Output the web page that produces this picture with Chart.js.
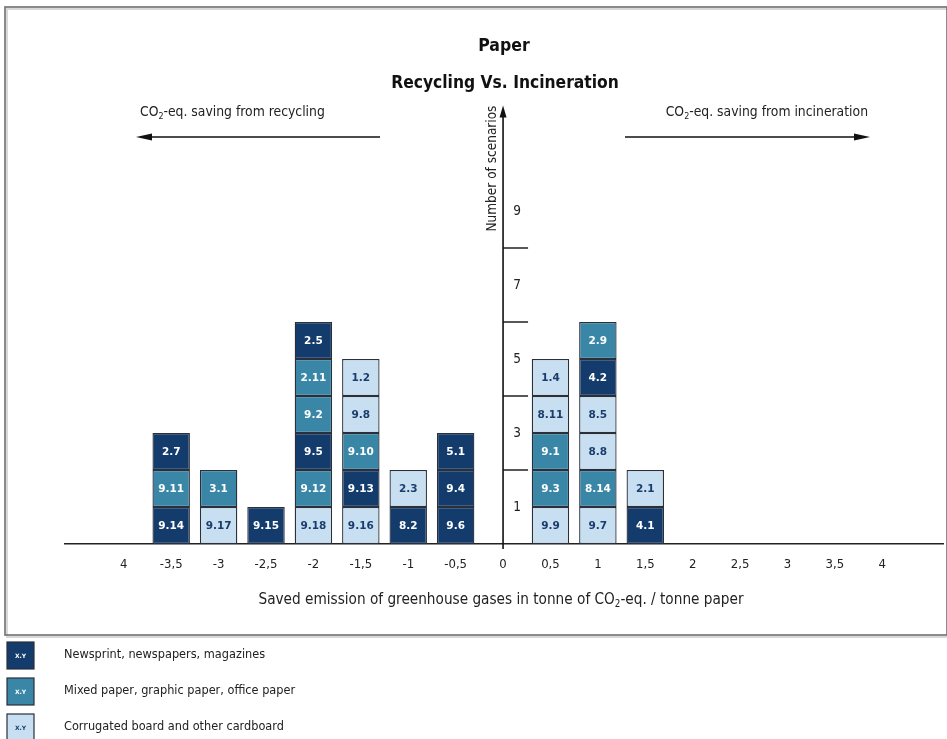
<!DOCTYPE html>
<html><head><meta charset="utf-8">
<script src="https://cdn.jsdelivr.net/npm/chart.js@4.4.1/dist/chart.umd.min.js"></script>
<style>html,body{margin:0;padding:0;background:#fff;overflow:hidden}#wrap{width:947px;height:739px;position:relative}</style>
</head><body><div id="wrap"><canvas id="c" width="947" height="739"></canvas></div>
<script>
// ---- data ----
const bins = [-3.5, -3, -2.5, -2, -1.5, -1, -0.5, 0.5, 1, 1.5];
const scenarioLabels = [
  ["9.14", "9.11", "2.7"],
  ["9.17", "3.1"],
  ["9.15"],
  ["9.18", "9.12", "9.5", "9.2", "2.11", "2.5"],
  ["9.16", "9.13", "9.10", "9.8", "1.2"],
  ["8.2", "2.3"],
  ["9.6", "9.4", "5.1"],
  ["9.9", "9.3", "9.1", "8.11", "1.4"],
  ["9.7", "8.14", "8.8", "8.5", "4.2", "2.9"],
  ["4.1", "2.1"]
];
// 0 = newsprint, 1 = mixed paper, 2 = corrugated board
const scenarioTypes = [
  [0, 1, 0],
  [2, 1],
  [0],
  [2, 1, 0, 1, 1, 0],
  [2, 0, 1, 2, 2],
  [0, 2],
  [0, 0, 0],
  [2, 1, 1, 2, 2],
  [2, 1, 2, 2, 0, 1],
  [0, 2]
];
const paperTypes = ["Newsprint, newspapers, magazines", "Mixed paper, graphic paper, office paper", "Corrugated board and other cardboard"];
const xTickValues = [-4, -3.5, -3, -2.5, -2, -1.5, -1, -0.5, 0, 0.5, 1, 1.5, 2, 2.5, 3, 3.5, 4];
const xTickLabels = ["4", "-3,5", "-3", "-2,5", "-2", "-1,5", "-1", "-0,5", "0", "0,5", "1", "1,5", "2", "2,5", "3", "3,5", "4"];
const yLabelValues = [1, 3, 5, 7, 9];
const yTickLineValues = [2, 4, 6, 8];

// ---- styles ----
const fillColors = ["#133b6c", "#3a86a7", "#c7dff0"];
const textColors = ["#ffffff", "#ffffff", "#1a3d6d"];
const FONT = '"DejaVu Sans Condensed", "Liberation Sans Narrow", "DejaVu Sans", sans-serif';
const BFONT = 'Verdana, "DejaVu Sans", sans-serif';

const maxLevel = Math.max(...scenarioLabels.map(s => s.length));
const datasets = [];
for (let L = 0; L < maxLevel; L++) {
  const pts = [];
  bins.forEach((b, i) => {
    if (scenarioLabels[i].length > L) pts.push({x: b, y: 1, lbl: scenarioLabels[i][L], t: scenarioTypes[i][L]});
  });
  datasets.push({
    label: 'level ' + (L + 1),
    data: pts,
    backgroundColor: ctx => fillColors[ctx.raw ? ctx.raw.t : 0],
    borderColor: '#2b2f3a',
    borderWidth: 1.3,
    borderSkipped: false,
    barPercentage: 0.79,
    categoryPercentage: 1
  });
}

// text with a subscript "2" after "CO"
function drawCO2(c, pre, post, x, y, size, align) {
  const subSize = size * 0.64;
  c.font = size + 'px ' + FONT; const w1 = c.measureText(pre).width, w3 = c.measureText(post).width;
  c.font = subSize + 'px ' + FONT; const w2 = c.measureText('2').width;
  const total = w1 + w2 + w3;
  const sx = align === 'center' ? x - total / 2 : (align === 'right' ? x - total : x);
  c.textAlign = 'left'; c.textBaseline = 'middle';
  c.font = size + 'px ' + FONT; c.fillText(pre, sx, y);
  c.font = subSize + 'px ' + FONT; c.fillText('2', sx + w1, y + size * 0.32);
  c.font = size + 'px ' + FONT; c.fillText(post, sx + w1 + w2, y);
}

const deco = {
  id: 'deco',
  beforeDraw(chart) {
    const c = chart.ctx;
    c.save();
    c.strokeStyle = '#d8d8d8'; c.lineWidth = 2;
    c.strokeRect(7, 9, 942, 628);
    c.strokeStyle = '#6e6e6e'; c.lineWidth = 1.6;
    c.strokeRect(5, 7, 942, 628);
    c.restore();
  },
  afterDatasetsDraw(chart) {
    const c = chart.ctx;
    const xs = chart.scales.x, ys = chart.scales.y;
    c.save();
    // block labels
    c.font = 'bold 10.5px ' + BFONT;
    c.textAlign = 'center'; c.textBaseline = 'middle';
    chart.data.datasets.forEach((ds, di) => {
      const meta = chart.getDatasetMeta(di);
      meta.data.forEach((el, j) => {
        const r = ds.data[j];
        c.fillStyle = textColors[r.t];
        c.fillText(r.lbl, el.x, (el.y + el.base) / 2 + 0.5);
      });
    });
    // y axis at x = 0
    const x0 = xs.getPixelForValue(0);
    const yb = ys.getPixelForValue(0);
    const yt = ys.getPixelForValue(11.85);
    c.strokeStyle = '#111'; c.lineWidth = 1.6;
    c.beginPath(); c.moveTo(x0, yb + 5); c.lineTo(x0, yt + 8); c.stroke();
    c.fillStyle = '#111';
    c.beginPath(); c.moveTo(x0, yt); c.lineTo(x0 - 3.5, yt + 12); c.lineTo(x0 + 3.5, yt + 12); c.closePath(); c.fill();
    c.lineWidth = 1.4;
    yTickLineValues.forEach(v => {
      const y = ys.getPixelForValue(v);
      c.beginPath(); c.moveTo(x0, y); c.lineTo(x0 + 25, y); c.stroke();
    });
    c.font = '13.5px ' + FONT; c.fillStyle = '#222'; c.textAlign = 'center';
    yLabelValues.forEach(v => c.fillText(String(v), x0 + 14, ys.getPixelForValue(v)));
    // y title
    c.save();
    c.translate(x0 - 11, yt);
    c.rotate(-Math.PI / 2);
    c.textAlign = 'right'; c.textBaseline = 'middle';
    c.font = '13.5px ' + FONT; c.fillStyle = '#222';
    c.fillText('Number of scenarios', 0, 0);
    c.restore();
    // titles
    c.fillStyle = '#111'; c.textAlign = 'center'; c.textBaseline = 'middle';
    c.font = 'bold 17.5px ' + FONT;
    c.fillText('Paper', 504, 46);
    c.font = 'bold 17.3px ' + FONT;
    c.fillText('Recycling Vs. Incineration', 505, 84);
    // direction arrows
    c.fillStyle = '#222';
    drawCO2(c, 'CO', '-eq. saving from recycling', 140, 112, 13.8, 'left');
    drawCO2(c, 'CO', '-eq. saving from incineration', 868, 112, 13.8, 'right');
    c.strokeStyle = '#111'; c.lineWidth = 1.6; c.fillStyle = '#111';
    c.beginPath(); c.moveTo(380, 137); c.lineTo(148, 137); c.stroke();
    c.beginPath(); c.moveTo(136, 137); c.lineTo(152, 133.5); c.lineTo(152, 140.5); c.closePath(); c.fill();
    c.beginPath(); c.moveTo(625, 137); c.lineTo(858, 137); c.stroke();
    c.beginPath(); c.moveTo(870, 137); c.lineTo(854, 133.5); c.lineTo(854, 140.5); c.closePath(); c.fill();
    // x title
    c.fillStyle = '#222';
    drawCO2(c, 'Saved emission of greenhouse gases in tonne of CO', '-eq. / tonne paper', 501, 600, 15.2, 'center');
    // legend
    paperTypes.forEach((p, i) => {
      const y = 642 + i * 36;
      c.fillStyle = fillColors[i];
      c.fillRect(7, y, 27, 27);
      c.strokeStyle = '#2b2f3a'; c.lineWidth = 1.2;
      c.strokeRect(7, y, 27, 27);
      c.fillStyle = textColors[i];
      c.font = 'bold 6px ' + BFONT; c.textAlign = 'center'; c.textBaseline = 'middle';
      c.fillText('X.Y', 20.5, y + 14);
      c.fillStyle = '#222'; c.textAlign = 'left';
      c.font = '12.6px ' + FONT;
      c.fillText(p, 64, y + 13);
    });
    c.restore();
  }
};

new Chart(document.getElementById('c'), {
  type: 'bar',
  data: {datasets},
  options: {
    responsive: false,
    animation: false,
    devicePixelRatio: 1,
    layout: {padding: {top: 100, left: 65, right: 4, bottom: 135}},
    plugins: {legend: {display: false}, tooltip: {enabled: false}, title: {display: false}},
    scales: {
      x: {
        type: 'linear', min: -4.62, max: 4.64, stacked: true, offset: false,
        grid: {display: false, drawTicks: false},
        border: {display: true, color: '#222', width: 1.6},
        afterBuildTicks: s => { s.ticks = xTickValues.map(v => ({value: v})); },
        afterFit: s => { s.height = 60; },
        ticks: {
          autoSkip: false, maxRotation: 0, padding: 13, color: '#222',
          font: {family: FONT, size: 13},
          callback: (v, i) => xTickLabels[i]
        }
      },
      y: {type: 'linear', min: 0, max: 12, stacked: true, display: false}
    }
  }
  ,plugins: [deco]
});
</script></body></html>
